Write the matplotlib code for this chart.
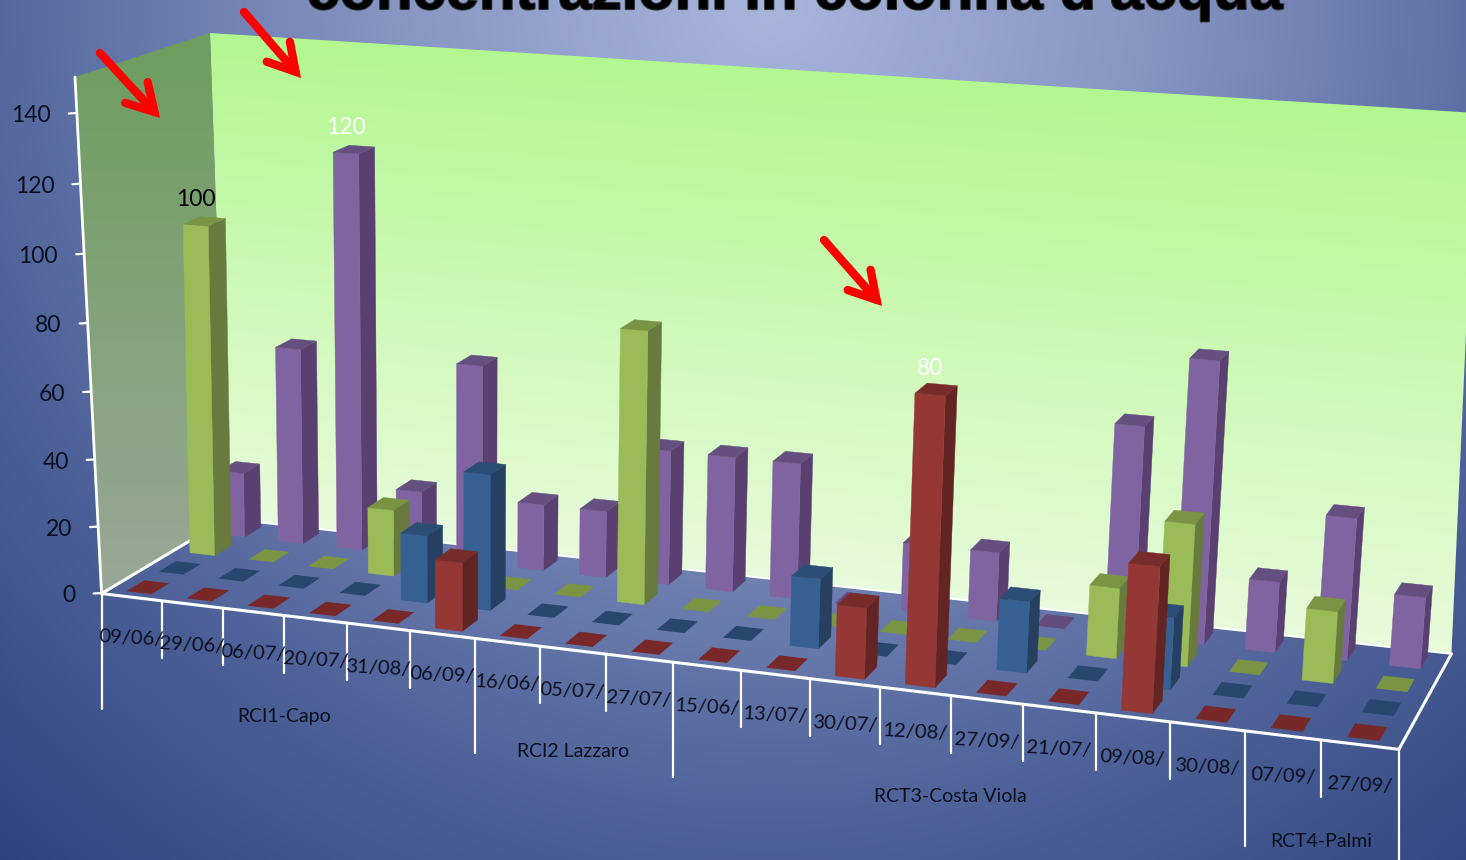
import numpy as np
import matplotlib
matplotlib.use('Agg')
import matplotlib.pyplot as plt
import matplotlib.patheffects as pe
from matplotlib.patches import Polygon

# values, one list per row of bars (front row first)
dates = ['09/06/', '29/06/', '06/07/', '20/07/', '31/08/', '06/09/', '16/06/', '05/07/', '27/07/', '15/06/',
         '13/07/', '30/07/', '12/08/', '27/09/', '21/07/', '09/08/', '30/08/', '07/09/', '27/09/']
red = [0, 0, 0, 0, 0, 20, 0, 0, 0, 0, 0, 20, 80, 0, 0, 40, 0, 0, 0]
blue = [0, 0, 0, 0, 20, 40, 0, 0, 0, 0, 20, 0, 0, 20, 0, 20, 0, 0, 0]
green = [100, 0, 0, 20, 0, 0, 0, 80, 0, 0, 0, 0, 0, 0, 20, 40, 0, 20, 0]
purple = [20, 60, 120, 20, 60, 20, 20, 40, 40, 40, 0, 20, 20, 0, 60, 80, 20, 40, 20]
groups = ['RCI1-Capo', 'RCI2 Lazzaro', 'RCT3-Costa Viola', 'RCT4-Palmi']
group_edges = [0, 6, 9, 17, 19]
yticks = [0, 20, 40, 60, 80, 100, 120, 140]
title = "concentrazioni in colonna d'acqua"

rows = [red, blue, green, purple]
# front, side, top
colors = [('#953735', '#632523', '#772c2a'),
          ('#366092', '#254061', '#2c4d75'),
          ('#9bbb59', '#687a3d', '#7b9444'),
          ('#8064a2', '#5a4070', '#654f80')]
flat = ['#782828', '#28466e', '#7a9444', '#644b7d']
labelled = [(0, 2, 'black'), (2, 3, 'white'), (12, 0, 'white')]

ncat = len(dates)
nrow = len(rows)
zmax = 150
w = 0.42
d = 0.55

plt.rcParams['font.family'] = ['Lato', 'DejaVu Sans']

# camera: floor homography from points seen on the floor, then the value axis from bar tops
front_edge = [(0, 100, 593), (1, 160, 600), (2, 222, 608), (3, 284, 617), (4, 347, 623), (5, 411, 630),
              (6, 476, 638), (7, 541, 646), (8, 608, 654), (9, 675, 663), (10, 742, 671), (11, 811, 679),
              (12, 881, 688), (13, 952, 696), (14, 1024, 704), (15, 1096, 713), (16, 1170, 722),
              (17, 1245, 731), (18, 1320, 740), (19, 1397, 748)]
# the front edge is the best seen line, so it counts four times
on_floor = [(c, 0, u, v) for c, u, v in front_edge] * 4 + [
    (19, 4, 1453, 655), (0, 4, 225, 520),
    (0.5, 0.5, 147, 587), (18.5, 0.5, 1367, 732), (0.5, 1.5, 180, 568), (18.5, 1.5, 1381, 707),
    (1.5, 2.5, 272, 556), (18.5, 2.5, 1395, 684), (13.5, 3.5, 1060, 622),
    (7.5, 0.5, 588, 639), (8.5, 1.5, 616, 618), (8.5, 2.5, 706, 606),
    (0.29, 2.225, 193, 553), (2.29, 3.225, 342, 548), (0.29, 3.225, 228, 533),
    (12.29, 0.225, 910, 684), (18.29, 3.225, 1392, 665)]
raised = [(0.29, 2.225, 100, 181, 222), (2.29, 3.225, 120, 332, 152), (4.29, 3.225, 60, 460, 365),
          (5.29, 1.225, 40, 467, 470), (7.29, 2.225, 80, 622, 328), (9.29, 3.225, 40, 778, 458),
          (12.29, 0.225, 80, 912, 395), (13.29, 1.225, 20, 1003, 598), (15.29, 0.225, 40, 1128, 563),
          (15.29, 3.225, 80, 1188, 362), (18.29, 3.225, 20, 1394, 595)]
# chart box outline that the bars do not pin down
wall_top_left = (210, 33)
wall_top_right = (1476, 113)
axis_top = (75, 77)
axis_scale = [(0, 593), (80, 323), (140, 113)]

A = []
for X, Y, u, v in on_floor:
    u, v = u / 1000.0, v / 1000.0
    A.append([X, Y, 1, 0, 0, 0, -u * X, -u * Y, -u])
    A.append([0, 0, 0, X, Y, 1, -v * X, -v * Y, -v])
H_floor = np.linalg.svd(np.array(A, dtype=float))[2][-1].reshape(3, 3)
H_floor[2] = H_floor[2] / 1000.0
A, B = [], []
for X, Y, Z, u, v in raised:
    h = H_floor.dot([X, Y, 1])
    A.append([Z, 0, -u * Z])
    B.append(u * h[2] - h[0])
    A.append([0, Z, -v * Z])
    B.append(v * h[2] - h[1])
zcol = np.linalg.lstsq(np.array(A, dtype=float), np.array(B), rcond=None)[0]
P = np.column_stack([H_floor[:, 0], H_floor[:, 1], zcol, H_floor[:, 2]])
axis_fit = np.polyfit([a[0] for a in axis_scale], [a[1] for a in axis_scale], 2)


def project(c, r, z):
    p = P.dot([c, r, z, 1])
    return p[0] / p[2], p[1] / p[2]


def ramp(t, stops, cols):
    return np.stack([np.interp(t, stops, [c[i] for c in cols]) for i in range(3)], axis=-1) / 255.0


fig = plt.figure(figsize=(14.66, 8.6), dpi=100)
ax = fig.add_axes([0, 0, 1, 1])
W, H = 1466, 860
xx, yy = np.meshgrid(np.arange(W) + 0.5, np.arange(H) + 0.5)

# slide background
t = np.sqrt(((xx - 770) / 900.0) ** 2 + (yy / 900.0) ** 2)
bg = ramp(t, [0, 0.41, 0.9, 1.3], [(168, 182, 220), (135, 150, 195), (80, 100, 155), (45, 65, 125)])
ax.imshow(bg, extent=(0, W, H, 0), zorder=0)

# back wall
xb0, yb0 = project(0, 4, 0)
xb1, yb1 = project(19, 4, 0)
top_line = wall_top_left[1] + (xx - wall_top_left[0]) * (wall_top_right[1] - wall_top_left[1]) / (wall_top_right[0] - wall_top_left[0])
bot_line = yb0 + (xx - xb0) * (yb1 - yb0) / (xb1 - xb0)
t = np.clip((yy - top_line) / (bot_line - top_line), 0, 1)
im = ax.imshow(ramp(t, [0, 1], [(178, 247, 143), (232, 251, 220)]), extent=(0, W, H, 0), zorder=1)
im.set_clip_path(Polygon([(xb0, yb0), (xb1, yb1), wall_top_right, wall_top_left], transform=ax.transData))

# left wall
t = np.clip((yy - 40) / 550.0, 0, 1)
im = ax.imshow(ramp(t, [0, 1], [(110, 157, 95), (152, 168, 150)]), extent=(0, W, H, 0), zorder=1)
im.set_clip_path(Polygon([project(0, 0, 0), (xb0, yb0), wall_top_left, axis_top], transform=ax.transData))

# floor
ax.add_patch(Polygon([project(0, 0, 0), project(19, 0, 0), project(19, 4, 0), project(0, 4, 0)],
                     facecolor='white', alpha=0.02, edgecolor='none', zorder=2))

# bars, back row first
z = 3
for r in range(nrow - 1, -1, -1):
    for c in range(ncat):
        v = rows[r][c]
        a, b = c + 0.5 - w / 2, c + 0.5 + w / 2
        f, g = r + 0.5 - d / 2, r + 0.5 + d / 2
        top = [project(a, f, v), project(b, f, v), project(b, g, v), project(a, g, v)]
        if v == 0:
            ax.add_patch(Polygon(top, facecolor=flat[r], edgecolor='none', zorder=z))
            continue
        front = [project(a, f, 0), project(b, f, 0), project(b, f, v), project(a, f, v)]
        side = [project(b, f, 0), project(b, g, 0), project(b, g, v), project(b, f, v)]
        ax.add_patch(Polygon(side, facecolor=colors[r][1], edgecolor=colors[r][1], lw=0.3, zorder=z))
        ax.add_patch(Polygon(front, facecolor=colors[r][0], edgecolor=colors[r][0], lw=0.3, zorder=z))
        ax.add_patch(Polygon(top, facecolor=colors[r][2], edgecolor=colors[r][2], lw=0.3, zorder=z))
    z += 1

# white frame of the box
def line(p, q, lw=2.2):
    ax.plot([p[0], q[0]], [p[1], q[1]], color='white', lw=lw, solid_capstyle='round', zorder=2.5)


line(project(0, 0, 0), project(19, 0, 0))
line(project(19, 0, 0), project(19, 4, 0))
line(project(0, 0, 0), project(0, 4, 0))
line(project(0, 4, 0), project(19, 4, 0), 1.5)
axis_x0 = project(0, 0, 0)[0]
line((axis_x0, np.polyval(axis_fit, 0)), axis_top, 2)

for v in yticks:
    py = np.polyval(axis_fit, v)
    px = axis_x0 + (py - np.polyval(axis_fit, 0)) * (axis_top[0] - axis_x0) / (axis_top[1] - np.polyval(axis_fit, 0))
    line((px - 8, py + 0.5), (px, py), 1.6)
    ax.text(px - 26, py + 3, str(v), ha='right', va='center', fontsize=16.5, color='#0a0f1e', zorder=9)

# category axis
for c in range(ncat + 1):
    px, py = project(c, 0, 0)
    drop = 115 if c in group_edges else 57
    if c == ncat:
        drop = 130
    line((px, py), (px, py + drop), 1.6)
for c in range(ncat):
    px, py = project(c + 0.5, 0, 0)
    ax.text(px, py + 41, dates[c], ha='center', va='center', fontsize=14.5, rotation=-3,
            color='#0a0f1e', zorder=9)
for i in range(len(groups)):
    px, py = project((group_edges[i] + group_edges[i + 1]) / 2.0, 0, 0)
    ax.text(px, py + 101, groups[i], ha='center', va='center', fontsize=14, color='#0a0f1e', zorder=9)

# value labels
for c, r, col in labelled:
    px, py = project(c + 0.5, r + 0.5 - d / 2, rows[r][c])
    ax.text(px, py - 26, str(rows[r][c]), ha='center', va='center', fontsize=16.5, color=col, zorder=9)

# red arrows
for start, end in [((100, 53), (160, 118)), ((244, 12), (301, 78)), ((824, 240), (882, 306))]:
    ax.annotate('', xy=end, xytext=start, zorder=10,
                arrowprops=dict(arrowstyle='->,head_length=0.95,head_width=0.55', color='#ff0000', lw=6,
                                shrinkA=0, shrinkB=0, mutation_scale=20, joinstyle='miter'))

# title runs off the top of the slide
ax.text(795, 9, title, ha='center', va='baseline', fontsize=43, fontweight='bold', family='Liberation Sans',
        color='black', zorder=10,
        path_effects=[pe.withStroke(linewidth=1.5, foreground='#333333')])

ax.set_xlim(0, W)
ax.set_ylim(H, 0)
ax.axis('off')
fig.savefig('out.png', dpi=100)
